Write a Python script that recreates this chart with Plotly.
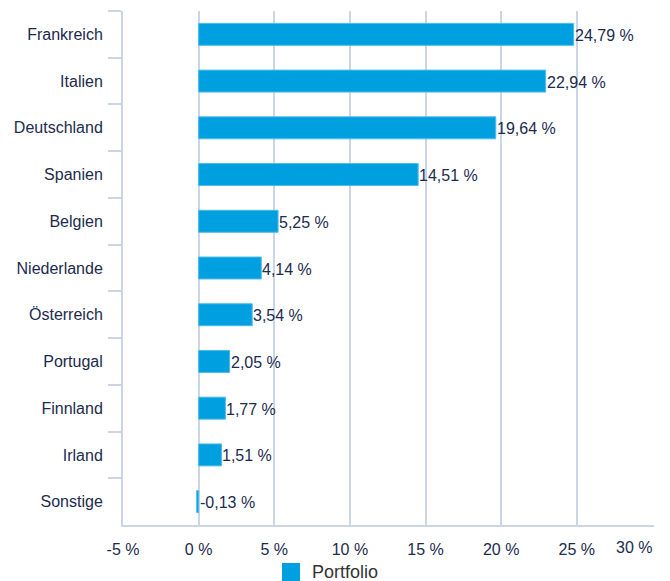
import plotly.graph_objects as go

countries = ["Frankreich", "Italien", "Deutschland", "Spanien", "Belgien", "Niederlande",
             "Österreich", "Portugal", "Finnland", "Irland", "Sonstige"]
weights = [24.79, 22.94, 19.64, 14.51, 5.25, 4.14, 3.54, 2.05, 1.77, 1.51, -0.13]
x_ticks = [-5, 0, 5, 10, 15, 20, 25, 30]
x_tick_labels = ["-5 %", "0 %", "5 %", "10 %", "15 %", "20 %", "25 %", "30 %"]
series_name = "Portfolio"

NAVY = "#1c2b4e"
GRID = "#cad5e5"
BLUE = "#009fe0"
FONT = "Liberation Sans, Arial, Helvetica, sans-serif"

L, R, T, B = 123, 16, 11, 56
PW, PH = 670 - L - R, 581 - T - B

fig = go.Figure()
fig.add_trace(go.Bar(
    y=countries, x=weights, orientation="h", name=series_name,
    marker=dict(color=BLUE, line=dict(color="#4cbcea", width=1)),
    width=0.47, showlegend=False, hoverinfo="x+y",
))

annotations = []
for c, v in zip(countries, weights):
    annotations.append(dict(
        x=max(v, 0), y=c, xref="x", yref="y", xanchor="left", yanchor="middle",
        text=f"{v:.2f}".replace(".", ",") + " %", showarrow=False, xshift=-1, yshift=-1,
        font=dict(family=FONT, size=16, color=NAVY),
    ))
# last x tick label shifted inside like the original
annotations.append(dict(
    x=1, y=0, xref="paper", yref="paper", xanchor="right", yanchor="top",
    text=x_tick_labels[-1], showarrow=False, yshift=-12, xshift=0,
    font=dict(family=FONT, size=16, color=NAVY),
))
# legend
annotations.append(dict(
    x=(310 - L) / PW, y=-((572 - (T + PH)) / PH), xref="paper", yref="paper",
    xanchor="left", yanchor="middle", text=series_name, showarrow=False,
    font=dict(family=FONT, size=18, color="#333333"),
))

fig.update_layout(
    width=670, height=581,
    margin=dict(l=L, r=R, t=T, b=B, autoexpand=False),
    paper_bgcolor="white", plot_bgcolor="white",
    font=dict(family=FONT, size=16, color=NAVY),
    annotations=annotations,
    shapes=[dict(type="rect", xref="paper", yref="paper",
                 x0=(282 - L) / PW, x1=(300 - L) / PW,
                 y0=-((563 - (T + PH)) / PH), y1=-((584 - (T + PH)) / PH),
                 fillcolor=BLUE, line=dict(width=0))],
    xaxis=dict(
        range=[-5, 30.1], tickvals=x_ticks[:-1], ticktext=x_tick_labels[:-1],
        showgrid=True, gridcolor=GRID, gridwidth=1.5, zeroline=False,
        showline=True, linecolor=GRID, linewidth=2, automargin=False,
        ticks="", tickfont=dict(size=16, color=NAVY), ticklabelstandoff=9,
    ),
    yaxis=dict(
        autorange="reversed", showgrid=False, zeroline=False,
        showline=True, linecolor=GRID, linewidth=2, automargin=False,
        ticks="outside", tickson="boundaries", ticklen=13, tickcolor=GRID, tickwidth=1.5,
        tickfont=dict(size=16, color=NAVY), ticklabelstandoff=15,
    ),
    bargap=0.53,
)

fig.write_html("out.html", config={"displayModeBar": False},
               post_script="document.body.style.margin='0';document.body.style.overflow='hidden';")
